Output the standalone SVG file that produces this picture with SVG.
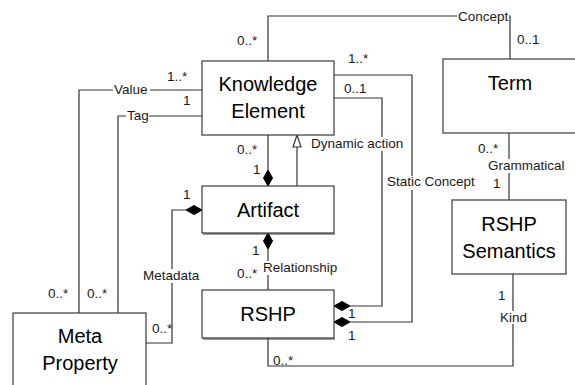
<svg xmlns="http://www.w3.org/2000/svg" width="575" height="385" viewBox="0 0 575 385">
<defs>
<style>
.box{fill:#fff;stroke:#3a3a3a;stroke-width:1.2}
.shadow{stroke:#3a3a3a;stroke-width:1.2;fill:none}
.t{font-family:"Liberation Sans",Arial,sans-serif;font-size:20px;fill:#000;text-anchor:middle}
.l{font-family:"Liberation Sans",Arial,sans-serif;font-size:13.5px;fill:#1a1a1a}
.ln{fill:none;stroke:#333;stroke-width:1.2}
.dia{fill:#000;stroke:#000;stroke-width:1}
.tri{fill:#fff;stroke:#333;stroke-width:1.2}
.bg{fill:#fff}
</style>
</defs>
<rect width="575" height="385" fill="#fff"/>
<g id="connectors">
<!-- Concept -->
<path class="ln" d="M268,61 V16 H510 V60"/>
<!-- Value -->
<path class="ln" d="M202,90 H79 V313"/>
<!-- Tag -->
<path class="ln" d="M202,116 H118 V313"/>
<!-- KE to Artifact composition -->
<path class="ln" d="M268,135 V170"/>
<path class="dia" d="M268,170 L272.5,178 L268,186 L263.5,178 Z"/>
<!-- Dynamic action generalization -->
<path class="ln" d="M297,186 V147"/>
<path class="tri" d="M297,135 L301,147 L293,147 Z"/>
<!-- Static Concept -->
<path class="ln" d="M334,75 H412 V322 H350"/>
<path class="dia" d="M334,322 L342,317.5 L350,322 L342,326.5 Z"/>
<!-- 0..1 line -->
<path class="ln" d="M334,98 H382 V306 H350"/>
<path class="dia" d="M334,306 L342,301.5 L350,306 L342,310.5 Z"/>
<!-- Artifact to RSHP -->
<path class="ln" d="M268,249 V290"/>
<path class="dia" d="M268,233 L272.5,241 L268,249 L263.5,241 Z"/>
<!-- Metadata -->
<path class="ln" d="M186,210 H172 V343 H146"/>
<path class="dia" d="M202,210 L194,214.5 L186,210 L194,205.5 Z"/>
<!-- Grammatical -->
<path class="ln" d="M509,133 V200"/>
<!-- Kind -->
<path class="ln" d="M513,274 V366 H268 V338"/>
<!-- label backgrounds -->
<rect class="bg" x="457" y="10" width="52" height="14"/>
<rect class="bg" x="113" y="84" width="37" height="13"/>
<rect class="bg" x="126" y="110" width="23" height="14"/>
<rect class="bg" x="309" y="137" width="95" height="14"/>
<rect class="bg" x="386" y="176" width="91" height="14"/>
<rect class="bg" x="487" y="159" width="80" height="14"/>
<rect class="bg" x="262" y="261" width="77" height="14"/>
<rect class="bg" x="141" y="269" width="62" height="14"/>
<rect class="bg" x="498" y="311" width="30" height="13"/>
<!-- labels -->
<text class="l" x="458" y="21">Concept</text>
<text class="l" x="517" y="44">0..1</text>
<text class="l" x="237" y="45">0..*</text>
<text class="l" x="167" y="81">1..*</text>
<text class="l" x="114" y="94">Value</text>
<text class="l" x="183" y="105">1</text>
<text class="l" x="127" y="120">Tag</text>
<text class="l" x="237" y="154">0..*</text>
<text class="l" x="253" y="174">1</text>
<text class="l" x="311" y="148">Dynamic action</text>
<text class="l" x="348" y="63">1..*</text>
<text class="l" x="344" y="93">0..1</text>
<text class="l" x="387" y="186">Static Concept</text>
<text class="l" x="478" y="153">0..*</text>
<text class="l" x="488" y="170">Grammatical</text>
<text class="l" x="493" y="188">1</text>
<text class="l" x="183" y="199">1</text>
<text class="l" x="252" y="255">1</text>
<text class="l" x="237" y="278">0..*</text>
<text class="l" x="263" y="272">Relationship</text>
<text class="l" x="143" y="280">Metadata</text>
<text class="l" x="48" y="298">0..*</text>
<text class="l" x="87" y="298">0..*</text>
<text class="l" x="152" y="333">0..*</text>
<text class="l" x="348" y="318">1</text>
<text class="l" x="348" y="340">1</text>
<text class="l" x="498" y="300">1</text>
<text class="l" x="500" y="322">Kind</text>
<text class="l" x="273" y="365">0..*</text>
</g>
<g id="knowledge-element">
<rect class="box" x="202" y="61" width="132" height="74"/>
<text class="t" x="268" y="91">Knowledge</text>
<text class="t" x="268" y="118">Element</text>
</g>
<g id="term">
<rect class="box" x="443" y="59" width="134" height="74"/>
<text class="t" x="510" y="90">Term</text>
</g>
<g id="artifact">
<rect class="box" x="202" y="186" width="132" height="47"/>
<line class="shadow" x1="203" y1="234" x2="335" y2="234"/>
<text class="t" x="268" y="217">Artifact</text>
</g>
<g id="rshp">
<rect class="box" x="202" y="290" width="132" height="48"/>
<line class="shadow" x1="203" y1="339" x2="335" y2="339"/>
<text class="t" x="268" y="321">RSHP</text>
</g>
<g id="rshp-semantics">
<rect class="box" x="452" y="200" width="114" height="74"/>
<text class="t" x="509" y="231">RSHP</text>
<text class="t" x="509" y="258">Semantics</text>
</g>
<g id="meta-property">
<rect class="box" x="13" y="313" width="133" height="80"/>
<text class="t" x="80" y="343">Meta</text>
<text class="t" x="80" y="370">Property</text>
</g>
</svg>
